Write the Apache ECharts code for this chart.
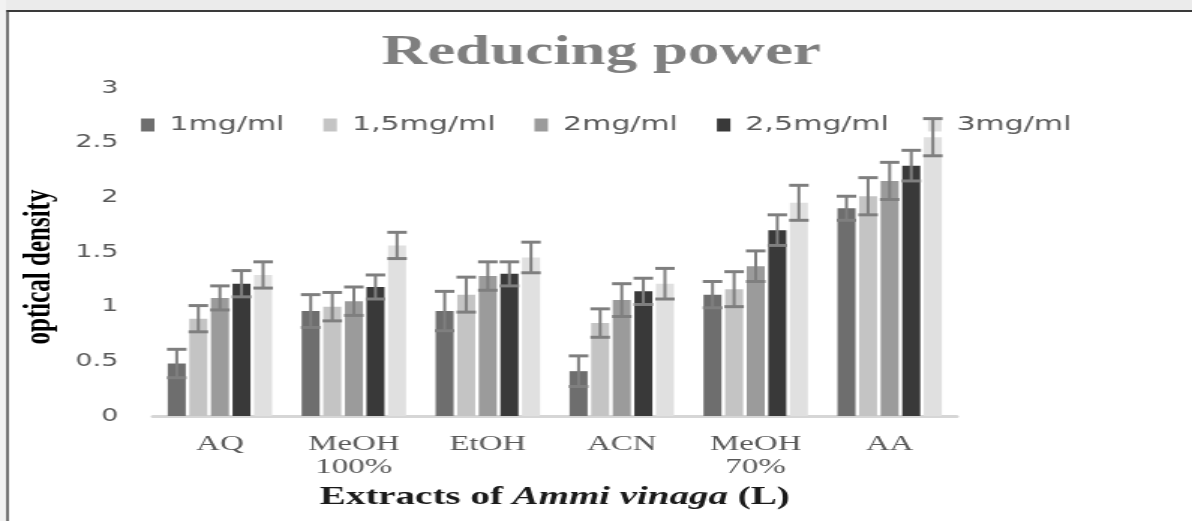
<!DOCTYPE html>
<html>
<head>
<meta charset="utf-8">
<script src="https://cdn.jsdelivr.net/npm/echarts@6/dist/echarts.min.js"></script>
<style>
html,body{margin:0;padding:0;background:#fff;overflow:hidden;width:1192px;height:521px;}
#c{width:795px;height:521px;transform:scaleX(1.4994);transform-origin:0 0;}
</style>
</head>
<body>
<div id="c"></div>
<script>
// ---- data ----
const categories = ['AQ', 'MeOH\n100%', 'EtOH', 'ACN', 'MeOH\n70%', 'AA'];
const seriesNames = ['1mg/ml', '1,5mg/ml', '2mg/ml', '2,5mg/ml', '3mg/ml'];
const conc1  = [0.48, 0.96, 0.96, 0.41, 1.11, 1.90];
const conc15 = [0.89, 1.00, 1.11, 0.85, 1.16, 2.01];
const conc2  = [1.08, 1.05, 1.28, 1.06, 1.37, 2.15];
const conc25 = [1.21, 1.18, 1.30, 1.14, 1.70, 2.29];
const conc3  = [1.29, 1.56, 1.45, 1.21, 1.95, 2.55];
const err1  = [0.13, 0.15, 0.18, 0.14, 0.12, 0.11];
const err15 = [0.12, 0.13, 0.16, 0.13, 0.16, 0.17];
const err2  = [0.11, 0.13, 0.13, 0.15, 0.14, 0.17];
const err25 = [0.12, 0.11, 0.11, 0.12, 0.14, 0.14];
const err3  = [0.12, 0.12, 0.14, 0.14, 0.16, 0.17];
const yTicks = [0, 0.5, 1, 1.5, 2, 2.5, 3];

const values = [conc1, conc15, conc2, conc25, conc3];
const errors = [err1, err15, err2, err25, err3];
const colors = ['#6e6e6e', '#c4c4c4', '#9b9b9b', '#393939', '#e0e0e0'];
const ERR = '#7f7f7f';
const BAR_W = 12, GAP = 0.2;
const N = seriesNames.length;
const SERIF = "'Liberation Serif', 'DejaVu Serif', serif";

const chart = echarts.init(document.getElementById('c'), null, {renderer: 'canvas'});

const series = [];
seriesNames.forEach((name, k) => {
  series.push({
    name: name, type: 'bar', barWidth: BAR_W, barGap: (GAP * 100) + '%',
    itemStyle: {color: colors[k]},
    data: values[k], z: 2
  });
});
seriesNames.forEach((name, k) => {
  series.push({
    name: 'err ' + name, type: 'custom', z: 5,
    data: values[k].map((v, i) => [i, v, errors[k][i]]),
    encode: {x: 0, y: 1},
    renderItem: function (params, api) {
      const ci = api.value(0), v = api.value(1), e = api.value(2);
      const c = api.coord([ci, v]);
      const t = api.coord([ci, v + e]);
      const b = api.coord([ci, v - e]);
      const g = GAP * BAR_W;
      const total = N * BAR_W + (N - 1) * g;
      const x = c[0] - total / 2 + k * (BAR_W + g) + BAR_W / 2;
      const capW = 13;
      return {type: 'group', children: [
        {type: 'rect', shape: {x: x - 1, y: t[1], width: 2, height: b[1] - t[1]}, style: {fill: ERR}},
        {type: 'rect', shape: {x: x - capW / 2, y: t[1] - 1.5, width: capW, height: 3}, style: {fill: ERR}},
        {type: 'rect', shape: {x: x - capW / 2, y: b[1] - 1.5, width: capW, height: 3}, style: {fill: ERR}}
      ]};
    }
  });
});

chart.setOption({
  animation: false,
  backgroundColor: '#ffffff',
  title: {
    text: 'Reducing power', left: 401, top: 32, textAlign: 'center', padding: 0,
    textStyle: {fontFamily: SERIF, fontWeight: 'bold', fontSize: 42, color: '#7f7f7f'}
  },
  legend: {
    data: seriesNames, left: 89, top: 110, icon: 'rect', itemWidth: 9, itemHeight: 13,
    itemGap: 26, selectedMode: false,
    textStyle: {fontFamily: 'DejaVu Sans', fontSize: 20, color: '#595959', padding: [0, 0, 0, 5]}
  },
  grid: {left: 102, right: 157, top: 88, bottom: 105, containLabel: false},
  xAxis: {
    type: 'category', data: categories,
    axisLine: {lineStyle: {color: '#d6d6d6', width: 3}},
    axisTick: {show: false},
    axisLabel: {fontFamily: SERIF, fontSize: 22, color: '#595959', lineHeight: 23, margin: 17, interval: 0},
    name: 'Extracts of {i|Ammi vinaga} (L)', nameLocation: 'middle', nameGap: 67,
    nameTextStyle: {
      fontFamily: SERIF, fontWeight: 'bold', fontSize: 26, color: '#1a1a1a',
      rich: {i: {fontFamily: SERIF, fontStyle: 'italic', fontWeight: 'bold', fontSize: 26, color: '#1a1a1a'}}
    }
  },
  yAxis: {
    type: 'value', min: yTicks[0], max: yTicks[yTicks.length - 1], interval: yTicks[1] - yTicks[0],
    axisLine: {show: false}, axisTick: {show: false}, splitLine: {show: false},
    axisLabel: {fontFamily: 'DejaVu Sans', fontSize: 18, color: '#595959', margin: 23},
    name: 'optical density', nameLocation: 'middle', nameGap: 58,
    nameTextStyle: {fontFamily: SERIF, fontWeight: 'bold', fontSize: 25, color: '#000', padding: [0, 30, 0, 0]}
  },
  graphic: [
    {type: 'rect', silent: true, shape: {x: 0, y: 0, width: 795, height: 10}, style: {fill: '#ebebeb'}},
    {type: 'rect', silent: true, shape: {x: 0, y: 0, width: 4, height: 521}, style: {fill: '#f2f2f2'}},
    {type: 'rect', silent: true, shape: {x: 4.3, y: 10, width: 795, height: 2}, style: {fill: '#3a3a3a'}},
    {type: 'rect', silent: true, shape: {x: 4.3, y: 10, width: 1.4, height: 511}, style: {fill: '#3a3a3a'}}
  ],
  series: series
});
</script>
</body>
</html>
